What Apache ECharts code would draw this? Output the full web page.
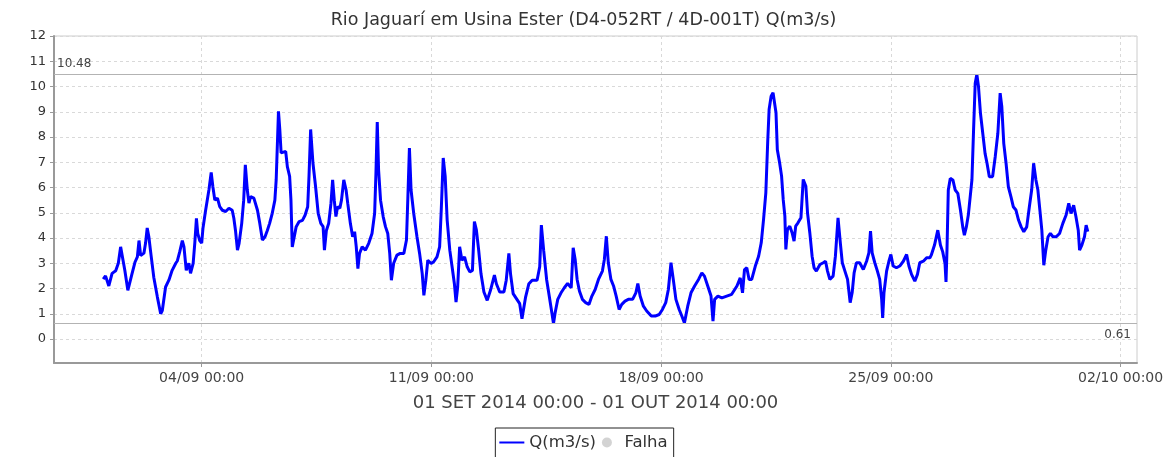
<!DOCTYPE html>
<html>
<head>
<meta charset="utf-8">
<title>Rio Jaguarí em Usina Ester</title>
<script src="https://cdn.jsdelivr.net/npm/echarts@6/dist/echarts.min.js"></script>
<style>
  html, body { margin: 0; padding: 0; background: #ffffff; }
  #chart { width: 1167px; height: 457px; }
</style>
</head>
<body>
<div id="chart"></div>
<script>
// Flow record for Sept 2014: time in days after 01/09/2014 00:00, and Q in m3/s
const dayOffsets = [
  0.00, 0.07, 0.17, 0.27, 0.38, 0.46, 0.53, 0.58, 0.66, 0.75, 0.80, 0.88, 0.97, 1.04, 1.09, 1.14,
  1.24, 1.29, 1.34, 1.39, 1.44, 1.54, 1.65, 1.75, 1.80, 1.90, 2.00, 2.10, 2.21, 2.26, 2.33, 2.41,
  2.46, 2.53, 2.61, 2.66, 2.74, 2.79, 2.84, 2.88, 2.94, 3.00, 3.04, 3.12, 3.22, 3.29, 3.34, 3.40,
  3.48, 3.55, 3.63, 3.73, 3.83, 3.93, 3.98, 4.03, 4.09, 4.14, 4.22, 4.28, 4.33, 4.39, 4.44, 4.49,
  4.59, 4.70, 4.77, 4.85, 4.93, 5.00, 5.07, 5.15, 5.23, 5.27, 5.34, 5.38, 5.42, 5.48, 5.56, 5.61,
  5.68, 5.72, 5.76, 5.82, 5.88, 5.97, 6.07, 6.15, 6.23, 6.27, 6.32, 6.39, 6.47, 6.55, 6.63,
  6.70, 6.74, 6.80, 6.87, 6.94, 6.99, 7.04, 7.09, 7.14, 7.21, 7.26, 7.33, 7.40, 7.45, 7.53, 7.60,
  7.66, 7.71, 7.76, 7.81, 7.89, 7.99, 8.09, 8.19, 8.27, 8.31, 8.35, 8.39, 8.45, 8.53, 8.60, 8.67,
  8.73, 8.78, 8.85, 8.95, 9.05, 9.16, 9.24, 9.28, 9.33, 9.38, 9.46, 9.56, 9.64, 9.72, 9.77, 9.83,
  9.89, 9.99, 10.07, 10.17, 10.25, 10.30, 10.36, 10.42, 10.48, 10.56, 10.63, 10.70, 10.75, 10.80,
  10.86, 10.93, 11.01, 11.09, 11.17, 11.25, 11.31, 11.37, 11.44, 11.51, 11.60, 11.70, 11.80, 11.92,
  11.98, 12.08, 12.21, 12.28, 12.36, 12.41, 12.49, 12.59, 12.69, 12.76, 12.87, 12.97, 13.07, 13.22,
  13.30, 13.35, 13.42,
  13.51, 13.59, 13.67, 13.72, 13.77, 13.85, 13.95, 14.05, 14.15, 14.26, 14.32, 14.38, 14.44, 14.51,
  14.60, 14.70, 14.80, 14.89, 14.99, 15.09, 15.21, 15.27, 15.33, 15.39, 15.47, 15.55, 15.63, 15.72,
  15.80, 15.90, 16.00, 16.13, 16.23, 16.29, 16.36, 16.46, 16.56, 16.70, 16.82, 16.94, 17.04, 17.14,
  17.22, 17.30, 17.37, 17.45, 17.55, 17.63, 17.71, 17.81, 17.91, 18.02, 18.14, 18.24, 18.32, 18.42,
  18.52, 18.58, 18.63, 18.73, 18.85, 19.00, 19.15, 19.31, 19.41, 19.48, 19.54, 19.61, 19.68, 19.76,
  19.87, 19.97, 20.05, 20.12, 20.19, 20.25, 20.29, 20.35, 20.41,
  20.50, 20.54, 20.61, 20.67, 20.72, 20.77, 20.80, 20.85, 20.92, 20.99, 21.05, 21.10, 21.17, 21.26,
  21.33, 21.37, 21.41, 21.46, 21.53, 21.60, 21.66, 21.73, 21.84, 21.94, 22.01, 22.07, 22.14, 22.24,
  22.31, 22.39, 22.46, 22.52, 22.60, 22.68, 22.76, 22.82, 22.88, 22.95, 23.05, 23.16, 23.26, 23.33,
  23.38, 23.43, 23.51, 23.59, 23.66, 23.72, 23.75, 23.79, 23.87, 23.94, 24.00, 24.07, 24.17, 24.27,
  24.38, 24.48, 24.55, 24.63, 24.73, 24.81, 24.88, 24.99, 25.09, 25.19,
  25.23, 25.33, 25.43, 25.51, 25.58, 25.65, 25.68, 25.71, 25.75, 25.81, 25.89, 25.96, 26.04, 26.12,
  26.19, 26.24, 26.30, 26.36, 26.42, 26.47, 26.52, 26.57, 26.62, 26.67, 26.73, 26.80, 26.87, 26.93,
  27.00, 27.10, 27.18, 27.26, 27.33, 27.38, 27.44, 27.51, 27.58, 27.66, 27.73, 27.81, 27.89, 27.97,
  28.05, 28.14, 28.22, 28.29, 28.35, 28.42, 28.48, 28.54, 28.60, 28.66, 28.72, 28.79, 28.86, 28.94,
  29.04, 29.14, 29.24, 29.34, 29.42, 29.49, 29.57, 29.64, 29.71, 29.75, 29.82, 29.90, 29.95, 30.00
];

const flow = [
  2.37, 2.50, 2.10, 2.60, 2.70, 3.00, 3.65, 3.70, 2.70, 1.93, 1.95, 2.60, 3.05, 3.25, 3.90, 3.30,
  3.40, 3.80, 4.40, 4.05, 3.50, 2.45, 1.66, 1.00, 1.13, 2.06, 2.33, 2.72, 3.00, 3.10, 3.45, 3.90,
  3.65, 2.72, 3.00, 2.60, 3.00, 3.80, 4.78, 4.18, 3.90, 3.80, 4.40, 5.10, 5.90, 6.60, 6.04, 5.50,
  5.58, 5.24, 5.10, 5.05, 5.18, 5.10, 4.78, 4.30, 3.52, 3.79, 4.58, 5.50, 6.90, 5.90, 5.38, 5.64,
  5.58, 5.10, 4.58, 3.92, 4.05, 4.30, 4.58, 4.98, 5.50, 6.30, 9.02, 8.30, 7.37, 7.43, 7.43, 6.83,
  6.44, 5.50, 3.65, 3.65, 4.45, 4.65, 4.70, 4.90, 5.24, 6.44, 8.30, 6.97, 6.04, 4.98, 4.58,
  4.45, 3.52, 4.30, 4.58, 5.38, 6.30, 5.50, 4.85, 5.24, 5.18, 5.50, 6.30, 5.90, 5.38, 4.58, 4.05,
  4.25, 3.65, 2.79, 3.39, 3.65, 3.52, 3.79, 4.18, 4.98, 6.57, 8.59, 6.70, 5.50, 4.85, 4.45, 4.18,
  3.39, 2.33, 3.00, 3.32, 3.39, 3.39, 3.92, 5.50, 7.56, 5.90, 4.98, 4.05, 3.39, 2.59, 1.73, 2.33,
  3.12, 2.99, 3.06, 3.25, 3.65, 5.11, 7.17, 6.44, 4.71, 3.52, 2.86, 2.19, 1.46, 2.06,
  3.65, 3.12, 3.25, 2.86, 2.66, 2.72, 4.65, 4.32, 3.52, 2.59, 1.86, 1.53, 1.93, 2.53,
  2.19, 1.86, 1.86, 2.33, 3.39, 2.59, 1.80, 1.60, 1.40, 0.80, 1.66, 2.19, 2.33, 2.33,
  2.86, 4.51, 3.52,
  2.36, 1.70, 1.04, 0.61, 1.04, 1.57, 1.83, 2.03, 2.20, 2.03, 3.61, 3.15, 2.36, 1.90,
  1.57, 1.44, 1.37, 1.70, 1.96, 2.36, 2.69, 3.15, 4.07, 3.02, 2.36, 2.10, 1.70, 1.17,
  1.37, 1.50, 1.57, 1.57, 1.83, 2.20, 1.70, 1.30, 1.11, 0.91, 0.91, 0.97, 1.17, 1.44,
  1.96, 3.02, 2.36, 1.57, 1.17, 0.91, 0.64, 1.30, 1.83, 2.10, 2.36, 2.62, 2.49, 2.10,
  1.70, 0.71, 1.57, 1.70, 1.63, 1.70, 1.77, 2.10, 2.42, 1.83, 2.75, 2.82, 2.36, 2.36,
  2.89, 3.28, 3.81, 4.73, 5.79, 7.90, 9.09, 9.61, 9.75,
  8.96, 7.50, 6.98, 6.45, 5.52, 4.87, 3.55, 4.34, 4.47, 4.21, 3.88, 4.47, 4.60, 4.80,
  6.32, 6.38, 6.05, 5.00, 4.21, 3.28, 2.82, 2.69, 2.95, 3.02, 3.08, 2.69, 2.36, 2.49,
  3.28, 4.80, 3.81, 3.02, 2.69, 2.36, 1.44, 1.83, 2.62, 3.02, 3.02, 2.75, 3.08, 3.41,
  4.27, 3.41, 3.02, 2.69, 2.36, 1.57, 0.84, 1.83, 2.69, 3.08, 3.35, 2.89, 2.82, 2.89,
  3.08, 3.35, 2.89, 2.56, 2.29, 2.56, 3.02, 3.08, 3.22, 3.22,
  3.32, 3.72, 4.31, 3.72, 3.45, 2.99, 2.26, 3.52, 5.90, 6.36, 6.30, 5.90, 5.77, 5.11,
  4.44, 4.11, 4.44, 4.91, 4.97, 6.30, 8.28, 10.13, 10.48, 10.00, 8.94, 8.15, 7.35, 6.96,
  6.43, 6.43, 7.22, 8.15, 9.74, 9.21, 7.75, 6.96, 6.03, 5.63, 5.24, 5.11, 4.71, 4.44,
  4.25, 4.44, 5.24, 5.90, 6.96, 6.30, 5.90, 5.11, 4.31, 2.92, 3.52, 4.05, 4.18, 4.05,
  4.05, 4.18, 4.58, 4.91, 5.37, 4.97, 5.30, 4.84, 4.31, 3.52, 3.72, 4.05, 4.51, 4.25
];

// Labelled y ticks and weekly x ticks (days after 01/09/2014 00:00)
const yTickValues = [0, 1, 2, 3, 4, 5, 6, 7, 8, 9, 10, 11, 12];
const xTickDays = [3, 10, 17, 24, 31];

const seriesName = 'Q(m3/s)';
const gapSeriesName = 'Falha';
const chartTitle = 'Rio Jaguarí em Usina Ester (D4-052RT / 4D-001T) Q(m3/s)';
const periodLabel = '01 SET 2014 00:00 - 01 OUT 2014 00:00';

const DAY = 86400000;
const t0 = Date.UTC(2014, 8, 1, 0, 0);

const points = dayOffsets.map((d, i) => [d, flow[i]]);

function pad(n) { return (n < 10 ? '0' : '') + n; }
// day offset -> "dd/MM HH:mm"
function fmtTick(d) {
  const dt = new Date(t0 + Math.round(d * DAY));
  return pad(dt.getUTCDate()) + '/' + pad(dt.getUTCMonth() + 1) + ' ' +
         pad(dt.getUTCHours()) + ':' + pad(dt.getUTCMinutes());
}

const FONT = 'DejaVu Sans';
const chart = echarts.init(document.getElementById('chart'), null, { renderer: 'canvas' });

chart.setOption({
  animation: false,
  backgroundColor: '#ffffff',
  textStyle: { fontFamily: FONT },
  title: {
    text: chartTitle,
    left: 'center',
    top: 6,
    textStyle: { fontFamily: FONT, fontSize: 17.5, fontWeight: 'normal', color: '#333333' }
  },
  legend: {
    bottom: -6,
    left: 'center',
    data: [
      { name: seriesName, icon: 'path://M0,0 L25,0 L25,2 L0,2 Z' },
      { name: gapSeriesName, icon: 'circle' }
    ],
    itemWidth: 25,
    itemHeight: 10,
    itemGap: 6,
    padding: [6, 6, 12, 4],
    borderColor: '#222222',
    borderWidth: 1,
    textStyle: { fontFamily: FONT, fontSize: 16.5, color: '#333333' }
  },
  grid: {
    left: 54,
    right: 30,
    top: 36,
    bottom: 94,
    show: true,
    borderColor: '#cccccc',
    borderWidth: 1,
    backgroundColor: '#ffffff'
  },
  xAxis: {
    type: 'value',
    min: -1.5,
    max: 31.5,
    name: periodLabel,
    nameLocation: 'middle',
    nameGap: 31,
    nameTextStyle: { fontFamily: FONT, fontSize: 18, color: '#444444' },
    axisLine: { show: true, onZero: false, lineStyle: { color: '#999999', width: 2 } },
    axisTick: { show: true, length: 4, lineStyle: { color: '#999999' }, customValues: xTickDays },
    axisLabel: {
      customValues: xTickDays,
      formatter: fmtTick,
      fontFamily: FONT,
      fontSize: 14,
      color: '#444444',
      margin: 8,
      hideOverlap: false
    },
    splitLine: { show: true, lineStyle: { color: '#d9d9d9', type: [3, 3], width: 1 } }
  },
  yAxis: {
    type: 'value',
    min: -0.95,
    max: 12,
    axisLine: { show: true, onZero: false, lineStyle: { color: '#999999', width: 2 } },
    axisTick: { show: true, length: 4, lineStyle: { color: '#999999' }, customValues: yTickValues },
    axisLabel: {
      customValues: yTickValues,
      fontFamily: FONT,
      fontSize: 13,
      color: '#333333',
      margin: 8
    },
    splitLine: { show: true, lineStyle: { color: '#d9d9d9', type: [3, 3], width: 1 } }
  },
  series: [
    {
      name: seriesName,
      type: 'line',
      data: points,
      showSymbol: false,
      symbol: 'circle',
      color: '#0000ff',
      lineStyle: { color: '#0000ff', width: 3 },
      markLine: {
        silent: true,
        symbol: ['none', 'none'],
        lineStyle: { color: '#b3b3b3', width: 1.2, type: 'solid' },
        data: [
          {
            type: 'max',
            valueDim: 'y',
            label: {
              position: 'insideStartTop',
              formatter: p => Number(p.value).toFixed(2),
              fontFamily: FONT,
              fontSize: 12,
              color: '#444444',
              distance: [3, 5]
            }
          },
          {
            type: 'min',
            valueDim: 'y',
            label: {
              position: 'insideEndBottom',
              formatter: p => Number(p.value).toFixed(2),
              fontFamily: FONT,
              fontSize: 12,
              color: '#444444',
              distance: [6, 5]
            }
          }
        ]
      }
    },
    {
      name: gapSeriesName,
      type: 'scatter',
      data: [],
      color: '#c8c8c8',
      itemStyle: { color: '#c8c8c8' }
    }
  ]
});
</script>
</body>
</html>
